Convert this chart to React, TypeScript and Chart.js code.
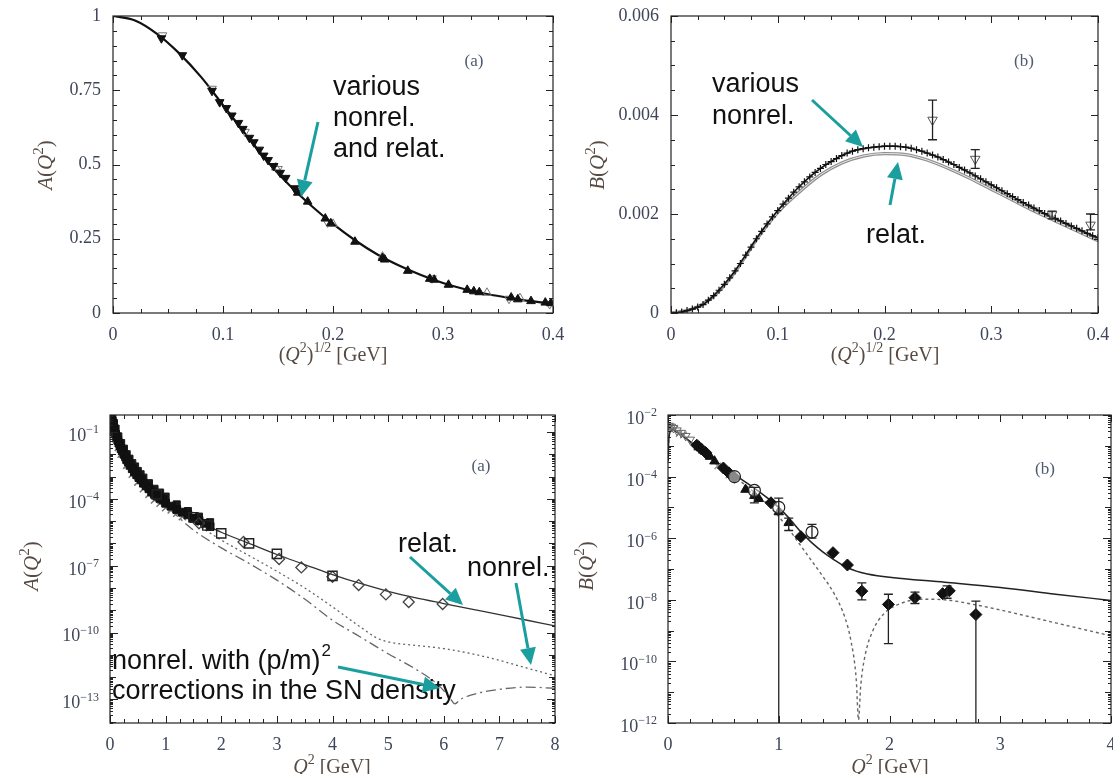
import React, { useEffect, useRef } from "react";
import { Chart, registerables } from "chart.js";
Chart.register(...registerables);

const PAGE_W = 1113;
const PAGE_H = 774;
const CANVAS_W = 1150;
const TEAL = "#1b9e9e";
const TICK_COLOR = "#3f4659";
const TITLE_COLOR = "#574a42";
const TAG_COLOR = "#4f5a70";
const SERIF = "'Liberation Serif', 'DejaVu Serif', serif";
const SANS = "'Liberation Sans', Arial, sans-serif";

// ===================== top-left: A(Q^2) vs (Q^2)^{1/2} =====================
const tlXMajor = [0, 0.1, 0.2, 0.3, 0.4];
const tlXLabels = ["0", "0.1", "0.2", "0.3", "0.4"];
const tlYMajor = [0, 0.25, 0.5, 0.75, 1];
const tlYLabels = ["0", "0.25", "0.5", "0.75", "1"];
const tlCurveX = [0, 0.02, 0.04, 0.06, 0.08, 0.1, 0.12, 0.14, 0.16, 0.18, 0.2, 0.22, 0.24, 0.26, 0.28, 0.3, 0.32, 0.34, 0.36, 0.38, 0.4];
const tlCurveA = [1.0, 0.985, 0.94, 0.875, 0.795, 0.7, 0.605, 0.512, 0.432, 0.362, 0.3, 0.245, 0.198, 0.16, 0.128, 0.101, 0.08, 0.064, 0.051, 0.04, 0.032];
const tlDownFilled: [number, number][] = [
  [0.044, 0.925], [0.063, 0.868], [0.09, 0.748], [0.097, 0.71], [0.103, 0.69], [0.108, 0.665], [0.114, 0.64],
  [0.118, 0.62], [0.124, 0.59], [0.128, 0.575], [0.133, 0.55], [0.137, 0.53], [0.141, 0.515], [0.146, 0.495],
  [0.152, 0.472], [0.157, 0.455], [0.165, 0.42],
];
const tlUpFilled: [number, number][] = [
  [0.168, 0.405], [0.177, 0.375], [0.193, 0.318], [0.198, 0.302], [0.22, 0.24], [0.245, 0.185], [0.247, 0.18],
  [0.268, 0.142], [0.288, 0.115], [0.292, 0.112], [0.305, 0.095], [0.322, 0.078], [0.328, 0.073], [0.333, 0.07],
  [0.362, 0.052], [0.368, 0.046], [0.38, 0.04], [0.393, 0.035], [0.398, 0.033],
];
const tlDownOpen: [number, number][] = [
  [0.045, 0.935], [0.09, 0.755], [0.12, 0.61], [0.15, 0.485], [0.195, 0.305], [0.29, 0.117], [0.36, 0.048], [0.397, 0.03],
];
const tlUpOpen: [number, number][] = [
  [0.148, 0.49], [0.2, 0.3], [0.245, 0.19], [0.34, 0.068], [0.37, 0.05],
];

// ===================== top-right: B(Q^2) vs (Q^2)^{1/2} =====================
const trXMajor = [0, 0.1, 0.2, 0.3, 0.4];
const trXLabels = ["0", "0.1", "0.2", "0.3", "0.4"];
const trYMajor = [0, 0.002, 0.004, 0.006];
const trYLabels = ["0", "0.002", "0.004", "0.006"];
const trNonrelX = [0, 0.01, 0.02, 0.03, 0.04, 0.05, 0.06, 0.07, 0.08, 0.09, 0.1, 0.11, 0.12, 0.13, 0.14, 0.15, 0.16, 0.17, 0.18, 0.19, 0.2, 0.21, 0.22, 0.23, 0.24, 0.25, 0.26, 0.27, 0.28, 0.29, 0.3, 0.31, 0.32, 0.33, 0.34, 0.35, 0.36, 0.37, 0.38, 0.39, 0.4];
const trNonrelB = [0, 0.00002, 0.00008, 0.00017, 0.00035, 0.00058, 0.00085, 0.00117, 0.0015, 0.0018, 0.00207, 0.00232, 0.00255, 0.00275, 0.00292, 0.00306, 0.00318, 0.00327, 0.00332, 0.00335, 0.00337, 0.00337, 0.00335, 0.0033, 0.00323, 0.00315, 0.00305, 0.00294, 0.00283, 0.00271, 0.00259, 0.00247, 0.00235, 0.00223, 0.00212, 0.00201, 0.00191, 0.00181, 0.00171, 0.00161, 0.00152];
const trCrossX = [0.005, 0.015, 0.025, 0.035, 0.045, 0.055, 0.065, 0.075, 0.085, 0.095, 0.105, 0.115, 0.125, 0.135, 0.145, 0.155, 0.165, 0.175, 0.185, 0.195, 0.205, 0.215, 0.225, 0.235, 0.245, 0.255, 0.265, 0.275, 0.285, 0.295, 0.305, 0.315, 0.325, 0.335, 0.345, 0.355, 0.365, 0.375, 0.385, 0.395];
const trCrossB = [0.000005, 0.00005, 0.00012, 0.00026, 0.00046, 0.00071, 0.001, 0.00133, 0.00165, 0.00194, 0.0022, 0.00244, 0.00265, 0.00284, 0.003, 0.00312, 0.00323, 0.0033, 0.00334, 0.00336, 0.00337, 0.00336, 0.00333, 0.00327, 0.00319, 0.0031, 0.003, 0.00289, 0.00277, 0.00265, 0.00253, 0.00241, 0.00229, 0.00218, 0.00207, 0.00196, 0.00186, 0.00176, 0.00166, 0.00156];
const trRelatX = [0, 0.02, 0.04, 0.06, 0.08, 0.1, 0.12, 0.14, 0.16, 0.18, 0.2, 0.22, 0.24, 0.26, 0.28, 0.3, 0.32, 0.34, 0.36, 0.38, 0.4];
const trRelatB = [0, 0.00008, 0.00034, 0.00083, 0.00148, 0.00203, 0.00244, 0.00279, 0.00303, 0.00317, 0.00322, 0.0032, 0.00309, 0.00292, 0.00272, 0.0025, 0.00228, 0.00206, 0.00186, 0.00166, 0.00146];
const trData: [number, number][] = [[0.245, 0.0039], [0.285, 0.00311], [0.357, 0.00199], [0.393, 0.00178]];
const trErr: [number, number, number][] = [[0.245, 0.0035, 0.0043], [0.285, 0.00292, 0.0033], [0.357, 0.0019, 0.00206], [0.393, 0.00168, 0.002]];

// ===================== bottom-left: A(Q^2) log vs Q^2 (log10 values) =====================
const blXMajor = [0, 1, 2, 3, 4, 5, 6, 7, 8];
const blYMajorExp = [-1, -4, -7, -10, -13];
const blRelatQ = [0, 0.02, 0.05, 0.1, 0.15, 0.2, 0.3, 0.4, 0.5, 0.6, 0.75, 1.0, 1.25, 1.5, 1.75, 2.0, 2.5, 3.0, 3.5, 4.0, 4.5, 5.0, 5.5, 6.0, 6.5, 7.0, 7.5, 8.0];
const blRelatLog = [0, -0.25, -0.6, -1.1, -1.45, -1.75, -2.25, -2.65, -3.0, -3.3, -3.7, -4.2, -4.58, -4.88, -5.2, -5.5, -6.0, -6.5, -6.95, -7.4, -7.8, -8.15, -8.45, -8.7, -8.95, -9.2, -9.45, -9.7];
const blNonrelQ = [0, 0.02, 0.05, 0.1, 0.15, 0.2, 0.3, 0.4, 0.5, 0.6, 0.75, 1.0, 1.25, 1.5, 2.0, 2.5, 3.0, 3.5, 4.0, 4.5, 4.8, 5.0, 5.5, 6.0, 6.5, 7.0, 7.5, 8.0];
const blNonrelLog = [0, -0.25, -0.6, -1.1, -1.45, -1.75, -2.25, -2.65, -3.0, -3.3, -3.72, -4.25, -4.65, -5.05, -5.85, -6.55, -7.25, -8.0, -8.85, -9.75, -10.25, -10.42, -10.58, -10.72, -10.95, -11.25, -11.6, -11.94];
const blPmQ = [0, 0.02, 0.05, 0.1, 0.15, 0.2, 0.3, 0.4, 0.5, 0.6, 0.75, 1.0, 1.5, 2.0, 2.5, 3.0, 3.5, 4.0, 4.5, 5.0, 5.5, 5.9, 6.1, 6.2, 6.3, 6.5, 7.0, 7.5, 8.0];
const blPmLog = [0, -0.25, -0.6, -1.1, -1.45, -1.75, -2.25, -2.65, -3.0, -3.3, -3.75, -4.3, -5.4, -6.2, -6.9, -7.65, -8.5, -9.45, -10.2, -10.95, -11.65, -12.35, -12.9, -13.2, -13.0, -12.8, -12.55, -12.45, -12.5];
const blBlobFilled: [number, number][] = [
  [0.01, -0.1], [0.02, -0.25], [0.03, -0.38], [0.04, -0.5], [0.05, -0.6], [0.06, -0.7], [0.08, -0.9], [0.1, -1.1],
  [0.12, -1.22], [0.14, -1.38], [0.16, -1.5], [0.18, -1.62], [0.2, -1.75], [0.22, -1.85], [0.25, -2.0], [0.28, -2.12],
  [0.3, -2.25], [0.33, -2.35], [0.36, -2.5], [0.4, -2.65], [0.44, -2.8], [0.48, -2.92], [0.52, -3.05], [0.56, -3.15],
  [0.6, -3.3], [0.65, -3.42], [0.7, -3.55], [0.75, -3.7], [0.8, -3.8], [0.85, -3.88], [0.9, -3.98], [0.95, -4.05],
  [1.0, -4.2], [1.1, -4.33], [1.2, -4.48], [1.3, -4.6], [1.4, -4.72], [1.5, -4.88], [1.6, -4.98], [1.7, -5.1], [1.8, -5.25],
];
const blBlobUpper: [number, number][] = [
  [0.02, 0.0], [0.04, -0.3], [0.07, -0.6], [0.1, -0.85], [0.15, -1.2], [0.2, -1.5], [0.25, -1.75], [0.3, -2.0],
  [0.35, -2.2], [0.4, -2.4], [0.45, -2.55], [0.5, -2.75], [0.55, -2.9], [0.6, -3.05], [0.7, -3.3], [0.8, -3.55],
  [0.9, -3.72], [1.0, -3.9], [1.2, -4.25], [1.4, -4.55], [1.6, -4.8], [1.8, -5.05],
];
const blBlobGray: [number, number][] = [
  [0.02, -0.4], [0.05, -0.8], [0.1, -1.3], [0.15, -1.7], [0.2, -2.0], [0.3, -2.5], [0.4, -2.9], [0.5, -3.25],
  [0.6, -3.55], [0.7, -3.8], [0.8, -4.05], [0.9, -4.2], [1.0, -4.4], [1.1, -4.5], [1.2, -4.65], [1.3, -4.8],
];
const blOpenSquares: [number, number][] = [[0.84, -3.8], [1.5, -4.83], [1.75, -5.2], [2.0, -5.55], [2.5, -6.0], [3.0, -6.47], [4.0, -7.46]];
const blOpenDiamonds: [number, number][] = [[1.6, -5.1], [2.4, -5.94], [3.04, -6.7], [3.44, -7.08], [4.0, -7.5], [4.47, -7.87], [4.96, -8.29], [5.37, -8.63], [5.98, -8.72]];

// ===================== bottom-right: B(Q^2) log vs Q^2 (log10 values) =====================
const brXMajor = [0, 1, 2, 3, 4];
const brYMajorExp = [-2, -4, -6, -8, -10, -12];
const brSolidQ = [0.002, 0.005, 0.01, 0.02, 0.04, 0.08, 0.16, 0.3, 0.4, 0.5, 0.6, 0.7, 0.8, 0.9, 1.0, 1.1, 1.2, 1.3, 1.4, 1.5, 1.6, 1.7, 1.8, 2.0, 2.5, 3.0, 3.5, 4.0];
const brSolidLog = [-3.5, -2.96, -2.7, -2.54, -2.47, -2.55, -2.75, -3.15, -3.42, -3.68, -3.93, -4.18, -4.43, -4.7, -5.0, -5.38, -5.8, -6.15, -6.45, -6.7, -6.92, -7.07, -7.16, -7.27, -7.43, -7.6, -7.82, -8.02];
const brDottedQ = [0.002, 0.005, 0.01, 0.02, 0.04, 0.08, 0.16, 0.3, 0.4, 0.5, 0.6, 0.7, 0.8, 0.9, 1.0, 1.1, 1.2, 1.3, 1.4, 1.5, 1.6, 1.65, 1.7, 1.72, 1.74, 1.78, 1.85, 1.95, 2.1, 2.3, 2.5, 2.8, 3.0, 3.5, 4.0];
const brDottedLog = [-3.5, -2.96, -2.7, -2.54, -2.47, -2.56, -2.77, -3.18, -3.46, -3.73, -4.0, -4.28, -4.57, -4.9, -5.3, -5.75, -6.25, -6.75, -7.25, -7.8, -8.6, -9.3, -10.6, -11.9, -10.8, -9.8, -9.0, -8.45, -8.12, -7.98, -8.0, -8.18, -8.33, -8.75, -9.17];
const brOpenTri: [number, number][] = [[0.01, -2.35], [0.03, -2.38], [0.05, -2.42], [0.08, -2.5], [0.12, -2.58], [0.16, -2.68], [0.2, -2.8]];
const brGrayX: [number, number][] = [[0.02, -2.4], [0.06, -2.45], [0.1, -2.6], [0.14, -2.65], [0.26, -3.05], [0.3, -3.15], [0.45, -3.65], [0.55, -3.95]];
const brDiamonds: [number, number][] = [
  [0.26, -2.98], [0.3, -3.1], [0.34, -3.22], [0.5, -3.72], [0.55, -3.88], [0.6, -4.02], [0.93, -4.85], [1.2, -5.95],
  [1.49, -6.47], [1.62, -6.87], [1.75, -7.72], [1.99, -8.15], [2.23, -7.93], [2.48, -7.8], [2.54, -7.71], [2.78, -8.48],
];
const brTriangles: [number, number][] = [[0.28, -3.02], [0.38, -3.35], [0.42, -3.5], [0.7, -4.42], [0.78, -4.62], [0.82, -4.72], [1.0, -5.15], [1.09, -5.5]];
const brCircles: [number, number][] = [[0.6, -4.0], [0.78, -4.45], [1.0, -5.0], [1.3, -5.8]];
const brErr: [number, number, number][] = [
  [1.0, -12, -4.7], [0.78, -4.85, -4.35], [1.09, -5.75, -5.35], [1.3, -6.0, -5.55], [1.75, -8.0, -7.45],
  [1.99, -9.42, -7.82], [2.23, -8.12, -7.75], [2.52, -7.95, -7.55], [2.78, -12, -8.04],
];

// ===================== helpers =====================
type Part = { t: string; it?: boolean; sup?: boolean };
type Tick = { v: number; len: number };

const pow10 = (e: number) => Math.pow(10, e);
const pairs = (a: [number, number][], log = false) => a.map(([x, y]) => ({ x, y: log ? pow10(y) : y }));
const lineData = (xs: number[], ys: number[], log = false) => xs.map((x, i) => ({ x, y: log ? pow10(ys[i]) : ys[i] }));

const curveDs = (data: any[], color: string, width: number, dash: number[] = [], order = 5) => ({
  data, showLine: true, pointRadius: 0, borderColor: color, borderWidth: width, borderDash: dash,
  cubicInterpolationMode: "monotone", fill: false, order,
});
const markDs = (data: any[], style: string, r: number, fill: string, stroke: string, rot = 0, bw = 1) => ({
  data, showLine: false, pointStyle: style, pointRadius: r, rotation: rot, backgroundColor: fill,
  borderColor: stroke, borderWidth: bw, order: 1,
});

function linTicks(min: number, max: number, major: number, minor: number): Tick[] {
  const out: Tick[] = [];
  const n = Math.round((max - min) / minor);
  for (let i = 0; i <= n; i++) {
    const v = min + i * minor;
    const q = v / major;
    out.push({ v, len: Math.abs(q - Math.round(q)) < 1e-6 ? 7 : 4 });
  }
  return out;
}
function logTicks(minE: number, maxE: number, labeled: number[]): Tick[] {
  const out: Tick[] = [];
  for (let e = Math.floor(minE); e <= Math.ceil(maxE); e++) {
    for (let k = 1; k <= 9; k++) {
      const v = k * pow10(e);
      const le = Math.log10(v);
      if (le < minE - 1e-9 || le > maxE + 1e-9) continue;
      out.push({ v, len: k === 1 ? (labeled.includes(e) ? 8 : 6) : 3 });
    }
  }
  return out;
}

function drawRich(
  ctx: CanvasRenderingContext2D, parts: Part[], x: number, y: number, size: number, color: string,
  rotate = false, align: "center" | "right" = "center", supScale = 0.7,
) {
  ctx.save();
  ctx.translate(x, y);
  if (rotate) ctx.rotate(-Math.PI / 2);
  const font = (p: Part) => `${p.it ? "italic " : ""}${p.sup ? Math.round(size * supScale) : size}px ${SERIF}`;
  let total = 0;
  const ws = parts.map((p) => {
    ctx.font = font(p);
    const w = ctx.measureText(p.t).width;
    total += w;
    return w;
  });
  let cx = align === "center" ? -total / 2 : -total;
  ctx.fillStyle = color;
  ctx.textBaseline = "alphabetic";
  ctx.textAlign = "left";
  parts.forEach((p, i) => {
    ctx.font = font(p);
    ctx.fillText(p.t, cx, p.sup ? size * 0.33 - size * 0.42 : size * 0.33);
    cx += ws[i];
  });
  ctx.restore();
}

function drawArrow(ctx: CanvasRenderingContext2D, x1: number, y1: number, x2: number, y2: number) {
  const ang = Math.atan2(y2 - y1, x2 - x1);
  const hl = 17, hw = 8;
  const bx = x2 - hl * Math.cos(ang), by = y2 - hl * Math.sin(ang);
  ctx.save();
  ctx.strokeStyle = TEAL;
  ctx.fillStyle = TEAL;
  ctx.lineWidth = 3;
  ctx.beginPath();
  ctx.moveTo(x1, y1);
  ctx.lineTo(bx, by);
  ctx.stroke();
  ctx.beginPath();
  ctx.moveTo(x2, y2);
  ctx.lineTo(bx + hw * Math.sin(ang), by - hw * Math.cos(ang));
  ctx.lineTo(bx - hw * Math.sin(ang), by + hw * Math.cos(ang));
  ctx.closePath();
  ctx.fill();
  ctx.restore();
}

interface PanelSpec {
  plot: { l: number; t: number; r: number; b: number };
  xMin: number; xMax: number; yMin: number; yMax: number; yLog: boolean;
  xMajor: number[]; xLabel: (v: number) => string;
  yMajor: number[]; yLabel: (v: number) => string;
  yExpLabels: number[];
  xTicks: Tick[]; yTicks: Tick[];
  datasets: any[];
  errors: [number, number, number][];
  xTitle: Part[]; xTitlePos: [number, number];
  yTitle: Part[]; yTitlePos: [number, number];
  tag: string; tagPos: [number, number];
  texts: [string, number, number][];
  supTexts: [string, number, number][];
  arrows: [number, number, number, number][];
}

const qHalf: Part[] = [{ t: "(" }, { t: "Q", it: true }, { t: "2", sup: true }, { t: ")" }, { t: "1/2", sup: true }, { t: " [GeV]" }];
const qSq: Part[] = [{ t: "Q", it: true }, { t: "2", sup: true }, { t: " [GeV]" }];
const aTitle: Part[] = [{ t: "A", it: true }, { t: "(" }, { t: "Q", it: true }, { t: "2", sup: true }, { t: ")" }];
const bTitle: Part[] = [{ t: "B", it: true }, { t: "(" }, { t: "Q", it: true }, { t: "2", sup: true }, { t: ")" }];

const findLabel = (vals: number[], labels: string[]) => (v: number) => {
  const i = vals.findIndex((x) => Math.abs(x - v) < 1e-9);
  return i >= 0 ? labels[i] : "";
};

const specs: PanelSpec[] = [
  {
    plot: { l: 113, t: 16, r: 553, b: 313 },
    xMin: 0, xMax: 0.4, yMin: 0, yMax: 1, yLog: false,
    xMajor: tlXMajor, xLabel: findLabel(tlXMajor, tlXLabels),
    yMajor: tlYMajor, yLabel: findLabel(tlYMajor, tlYLabels), yExpLabels: [],
    xTicks: linTicks(0, 0.4, 0.1, 0.025), yTicks: linTicks(0, 1, 0.25, 0.05),
    datasets: [
      markDs(pairs(tlDownFilled), "triangle", 5, "#111", "#111", 180),
      markDs(pairs(tlUpFilled), "triangle", 5, "#111", "#111", 0),
      markDs(pairs(tlDownOpen), "triangle", 5, "rgba(0,0,0,0)", "#777", 180),
      markDs(pairs(tlUpOpen), "triangle", 5, "rgba(0,0,0,0)", "#777", 0),
      curveDs(lineData(tlCurveX, tlCurveA), "#111", 2.2),
    ],
    errors: [],
    xTitle: qHalf, xTitlePos: [333, 354],
    yTitle: aTitle, yTitlePos: [45, 165],
    tag: "(a)", tagPos: [474, 60],
    texts: [["various", 333, 88], ["nonrel.", 333, 119], ["and relat.", 333, 150]],
    supTexts: [],
    arrows: [[318, 122, 301, 197]],
  },
  {
    plot: { l: 671, t: 16, r: 1098, b: 313 },
    xMin: 0, xMax: 0.4, yMin: 0, yMax: 0.006, yLog: false,
    xMajor: trXMajor, xLabel: findLabel(trXMajor, trXLabels),
    yMajor: trYMajor, yLabel: findLabel(trYMajor, trYLabels), yExpLabels: [],
    xTicks: linTicks(0, 0.4, 0.1, 0.025), yTicks: linTicks(0, 0.006, 0.002, 0.0005),
    datasets: [
      markDs(pairs(trData), "triangle", 5.5, "rgba(255,255,255,0.6)", "#555", 180),
      markDs(lineData(trNonrelX, trNonrelB), "cross", 3.5, "#111", "#111", 0, 1.2),
      markDs(lineData(trCrossX, trCrossB), "cross", 3.5, "#111", "#111", 0, 1.2),
      curveDs(lineData(trNonrelX, trNonrelB), "#111", 1.6, [], 3),
      curveDs(lineData(trRelatX, trRelatB), "#f4f4f4", 0.9, [], 4),
      curveDs(lineData(trRelatX, trRelatB), "#8f8f8f", 3.2, [], 5),
    ],
    errors: trErr,
    xTitle: qHalf, xTitlePos: [885, 354],
    yTitle: bTitle, yTitlePos: [597, 165],
    tag: "(b)", tagPos: [1024, 60],
    texts: [["various", 712, 85], ["nonrel.", 712, 117], ["relat.", 866, 236]],
    supTexts: [],
    arrows: [[812, 100, 863, 147], [890, 205, 898, 162]],
  },
  {
    plot: { l: 110, t: 415, r: 555, b: 723 },
    xMin: 0, xMax: 8, yMin: pow10(-14.06), yMax: pow10(-0.24), yLog: true,
    xMajor: blXMajor, xLabel: (v) => String(v),
    yMajor: blYMajorExp.map(pow10), yLabel: () => "", yExpLabels: blYMajorExp,
    xTicks: linTicks(0, 8, 1, 0.25), yTicks: logTicks(-14.06, -0.24, blYMajorExp),
    datasets: [
      markDs(pairs(blOpenSquares, true), "rect", 6.5, "rgba(0,0,0,0)", "#222", 0, 1.4),
      markDs(pairs(blOpenDiamonds, true), "rectRot", 5.5, "rgba(0,0,0,0)", "#444", 0, 1.3),
      markDs(pairs(blBlobFilled, true), "rect", 5.5, "#111", "#111", 0),
      markDs(pairs(blBlobUpper, true), "rect", 5, "#1a1a1a", "#1a1a1a", 0),
      markDs(pairs(blBlobGray, true), "crossRot", 5, "#777", "#777", 0, 1.5),
      curveDs(lineData(blRelatQ, blRelatLog, true), "#333", 1.3),
      curveDs(lineData(blNonrelQ, blNonrelLog, true), "#666", 1.3, [2, 3]),
      curveDs(lineData(blPmQ, blPmLog, true), "#666", 1.3, [10, 4, 2, 4]),
    ],
    errors: [],
    xTitle: qSq, xTitlePos: [332, 766],
    yTitle: aTitle, yTitlePos: [31, 566],
    tag: "(a)", tagPos: [481, 465],
    texts: [["relat.", 398, 545], ["nonrel.", 467, 569], ["nonrel. with (p/m)", 112, 662], ["corrections in the SN density", 112, 692]],
    supTexts: [["2", 112, 662]],
    arrows: [[410, 557, 463, 605], [516, 583, 531, 665], [338, 667, 440, 688]],
  },
  {
    plot: { l: 668, t: 415, r: 1111, b: 723 },
    xMin: 0, xMax: 4, yMin: 1e-12, yMax: 1e-2, yLog: true,
    xMajor: brXMajor, xLabel: (v) => String(v),
    yMajor: brYMajorExp.map(pow10), yLabel: () => "", yExpLabels: brYMajorExp,
    xTicks: linTicks(0, 4, 1, 0.2), yTicks: logTicks(-12, -2, brYMajorExp),
    datasets: [
      markDs(pairs(brCircles, true), "circle", 6, "rgba(255,255,255,0.5)", "#222", 0, 1.2),
      markDs(pairs(brDiamonds, true), "rectRot", 6, "#111", "#111", 0),
      markDs(pairs(brTriangles, true), "triangle", 5.5, "#111", "#111", 0),
      markDs(pairs(brOpenTri, true), "triangle", 5, "rgba(0,0,0,0)", "#666", 180),
      markDs(pairs(brGrayX, true), "crossRot", 4.5, "#888", "#888", 0, 1.4),
      curveDs(lineData(brSolidQ, brSolidLog, true), "#222", 1.5),
      curveDs(lineData(brDottedQ, brDottedLog, true), "#666", 1.4, [3, 3]),
    ],
    errors: brErr.map(([x, lo, hi]) => [x, pow10(lo), pow10(hi)] as [number, number, number]),
    xTitle: qSq, xTitlePos: [890, 766],
    yTitle: bTitle, yTitlePos: [586, 566],
    tag: "(b)", tagPos: [1045, 468],
    texts: [],
    supTexts: [],
    arrows: [],
  },
];

function buildConfig(spec: PanelSpec): any {
  const { plot } = spec;
  const Y_W = 80, X_H = 32;
  const panelPlugin = {
    id: "panelDeco",
    afterDatasetsDraw(chart: any) {
      const ctx: CanvasRenderingContext2D = chart.ctx;
      const ca = chart.chartArea;
      const xs = chart.scales.x, ys = chart.scales.y;
      // error bars
      ctx.save();
      ctx.beginPath();
      ctx.rect(ca.left, ca.top, ca.right - ca.left, ca.bottom - ca.top);
      ctx.clip();
      ctx.strokeStyle = "#222";
      ctx.lineWidth = 1.3;
      for (const [x, lo, hi] of spec.errors) {
        const px = xs.getPixelForValue(x);
        const pl = ys.getPixelForValue(Math.max(lo, spec.yMin));
        const ph = ys.getPixelForValue(hi);
        ctx.beginPath();
        ctx.moveTo(px, pl);
        ctx.lineTo(px, ph);
        ctx.moveTo(px - 4.5, ph);
        ctx.lineTo(px + 4.5, ph);
        if (lo > spec.yMin * 1.01) {
          ctx.moveTo(px - 4.5, pl);
          ctx.lineTo(px + 4.5, pl);
        }
        ctx.stroke();
      }
      ctx.restore();

      // frame and inward ticks
      ctx.save();
      ctx.strokeStyle = "#222";
      ctx.lineWidth = 1.2;
      ctx.strokeRect(ca.left, ca.top, ca.right - ca.left, ca.bottom - ca.top);
      ctx.lineWidth = 1;
      ctx.beginPath();
      for (const t of spec.xTicks) {
        const px = Math.round(xs.getPixelForValue(t.v)) + 0.5;
        ctx.moveTo(px, ca.bottom);
        ctx.lineTo(px, ca.bottom - t.len);
        ctx.moveTo(px, ca.top);
        ctx.lineTo(px, ca.top + t.len);
      }
      for (const t of spec.yTicks) {
        const py = Math.round(ys.getPixelForValue(t.v)) + 0.5;
        ctx.moveTo(ca.left, py);
        ctx.lineTo(ca.left + t.len, py);
        ctx.moveTo(ca.right, py);
        ctx.lineTo(ca.right - t.len, py);
      }
      ctx.stroke();
      ctx.restore();

      // exponent tick labels for log axes
      for (const e of spec.yExpLabels) {
        const py = ys.getPixelForValue(pow10(e));
        drawRich(ctx, [{ t: "10" }, { t: "−" + String(Math.abs(e)), sup: true }], ca.left - 11, py + 3, 18, TICK_COLOR, false, "right", 0.68);
      }

      // titles and tag
      drawRich(ctx, spec.xTitle, spec.xTitlePos[0], spec.xTitlePos[1], 20, TITLE_COLOR);
      drawRich(ctx, spec.yTitle, spec.yTitlePos[0], spec.yTitlePos[1], 21, TITLE_COLOR, true);
      drawRich(ctx, [{ t: spec.tag }], spec.tagPos[0], spec.tagPos[1], 17, TAG_COLOR);

      // annotations
      ctx.save();
      ctx.font = `27px ${SANS}`;
      ctx.fillStyle = "#111";
      ctx.textBaseline = "middle";
      ctx.textAlign = "left";
      const ends: Record<string, number> = {};
      for (const [t, x, y] of spec.texts) {
        ctx.fillText(t, x, y);
        ends[`${x},${y}`] = x + ctx.measureText(t).width;
      }
      ctx.font = `17px ${SANS}`;
      for (const [t, x, y] of spec.supTexts) {
        const ex = ends[`${x},${y}`] ?? x;
        ctx.fillText(t, ex + 1, y - 11);
      }
      ctx.restore();
      for (const a of spec.arrows) drawArrow(ctx, a[0], a[1], a[2], a[3]);
    },
  };

  return {
    type: "scatter",
    data: { datasets: spec.datasets },
    options: {
      responsive: false,
      animation: false,
      events: [],
      layout: {
        padding: { left: plot.l - Y_W, top: plot.t, right: CANVAS_W - plot.r, bottom: PAGE_H - plot.b - X_H },
      },
      plugins: { legend: { display: false }, tooltip: { enabled: false } },
      scales: {
        x: {
          type: "linear",
          min: spec.xMin,
          max: spec.xMax,
          grid: { display: false, drawTicks: false },
          border: { display: false },
          ticks: {
            autoSkip: false, maxRotation: 0, padding: 11, color: TICK_COLOR,
            font: { family: SERIF, size: 18 },
            callback: (v: number) => spec.xLabel(v),
          },
          afterBuildTicks: (s: any) => { s.ticks = spec.xMajor.map((v) => ({ value: v })); },
          afterFit: (s: any) => { s.height = X_H; s.paddingLeft = 0; s.paddingRight = 0; },
        },
        y: {
          type: spec.yLog ? "logarithmic" : "linear",
          min: spec.yMin,
          max: spec.yMax,
          grid: { display: false, drawTicks: false },
          border: { display: false },
          ticks: {
            autoSkip: false, padding: 12, color: TICK_COLOR,
            font: { family: SERIF, size: 18 },
            callback: (v: number) => spec.yLabel(v),
          },
          afterBuildTicks: (s: any) => { s.ticks = spec.yMajor.map((v) => ({ value: v })); },
          afterFit: (s: any) => { s.width = Y_W; s.paddingTop = 0; s.paddingBottom = 0; },
        },
      },
    },
    plugins: [panelPlugin],
  };
}

function Panel({ spec }: { spec: PanelSpec }) {
  const ref = useRef<HTMLCanvasElement>(null);
  useEffect(() => {
    const chart = new Chart(ref.current as HTMLCanvasElement, buildConfig(spec));
    return () => chart.destroy();
  }, [spec]);
  return (
    <canvas
      ref={ref}
      width={CANVAS_W}
      height={PAGE_H}
      style={{ position: "absolute", left: 0, top: 0, width: CANVAS_W, height: PAGE_H }}
    />
  );
}

export default function App() {
  return (
    <div style={{ position: "absolute", left: 0, top: 0, width: PAGE_W, height: PAGE_H, background: "#fff", overflow: "hidden" }}>
      {specs.map((s, i) => (
        <Panel key={i} spec={s} />
      ))}
    </div>
  );
}
